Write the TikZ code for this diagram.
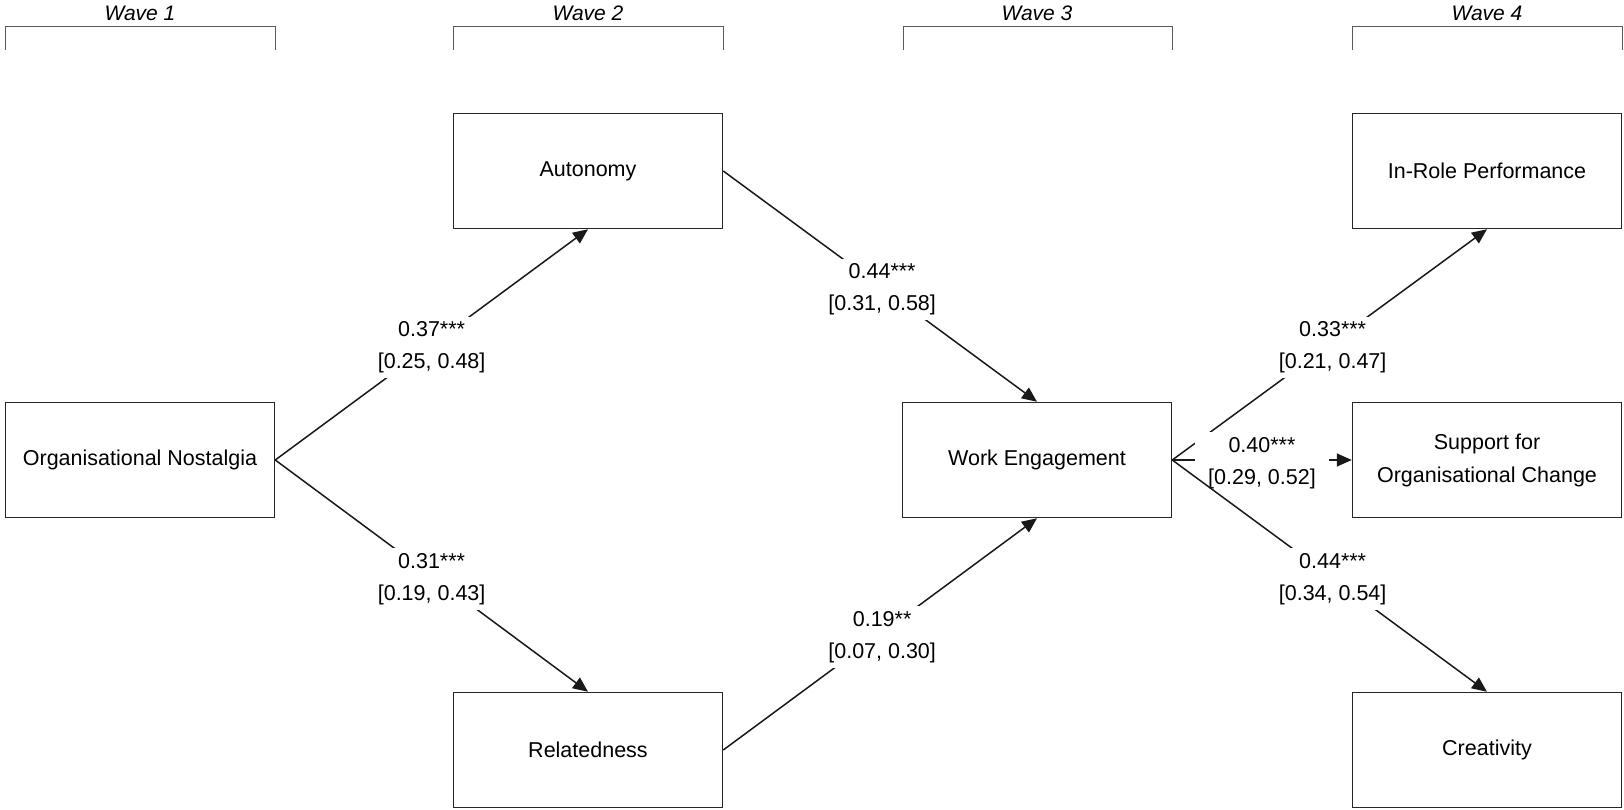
\documentclass[tikz,border=0pt]{standalone}
\usepackage{fontspec}
\setmainfont{Liberation Sans}
\usetikzlibrary{arrows.meta}
\begin{document}
\begin{tikzpicture}[x=1pt,y=-1pt,
 box/.style={draw=black!85, line width=1.5pt, minimum width=269pt, minimum height=115pt, inner sep=0pt, align=center, font=\fontsize{21.5}{33}\selectfont},
 lbl/.style={fill=white, align=center, inner xsep=13pt, inner ysep=5pt, yshift=-3pt, font=\fontsize{21.5}{32}\selectfont},
 arr/.style={line width=1.5pt, draw=black!90, -{Triangle[length=15pt,width=13pt]}},
 brk/.style={line width=1pt, draw=black!65},
 wave/.style={font=\fontsize{21}{25}\selectfont\itshape, inner sep=0pt}
]
\useasboundingbox (0,0) rectangle (1624,810);
% wave labels and brackets
\node[wave] (w1) at (140,13) {Wave 1};
\node[wave] (w2) at (588,13) {Wave 2};
\node[wave] (w3) at (1037,13) {Wave 3};
\node[wave] (w4) at (1487,13) {Wave 4};
\draw[brk] (5,50) -- (5,27) -- (275,27) -- (275,50);
\draw[brk] (453,50) -- (453,27) -- (723,27) -- (723,50);
\draw[brk] (903,50) -- (903,27) -- (1172,27) -- (1172,50);
\draw[brk] (1352,50) -- (1352,27) -- (1622,27) -- (1622,50);
% boxes
\node[box] (on) at (140,460) {Organisational Nostalgia};
\node[box] (aut) at (588,171) {Autonomy};
\node[box] (rel) at (588,750) {Relatedness};
\node[box] (we) at (1037,460) {Work Engagement};
\node[box] (irp) at (1487,171) {In-Role Performance};
\node[box] (soc) at (1487,460) {Support for\\Organisational Change};
\node[box] (cre) at (1487,750) {Creativity};
% paths
\draw[arr] (on.east) -- node[lbl] {0.37***\\{}[0.25, 0.48]} (aut.south);
\draw[arr] (on.east) -- node[lbl] {0.31***\\{}[0.19, 0.43]} (rel.north);
\draw[arr] (aut.east) -- node[lbl, xshift=2pt] {0.44***\\{}[0.31, 0.58]} (we.north);
\draw[arr] (rel.east) -- node[lbl, xshift=2pt] {0.19**\\{}[0.07, 0.30]} (we.south);
\draw[arr] (we.east) -- node[lbl, xshift=3pt] {0.33***\\{}[0.21, 0.47]} (irp.south);
\draw[arr] (we.east) -- node[lbl] {0.40***\\{}[0.29, 0.52]} (soc.west);
\draw[arr] (we.east) -- node[lbl, xshift=3pt] {0.44***\\{}[0.34, 0.54]} (cre.north);
\end{tikzpicture}
\end{document}
